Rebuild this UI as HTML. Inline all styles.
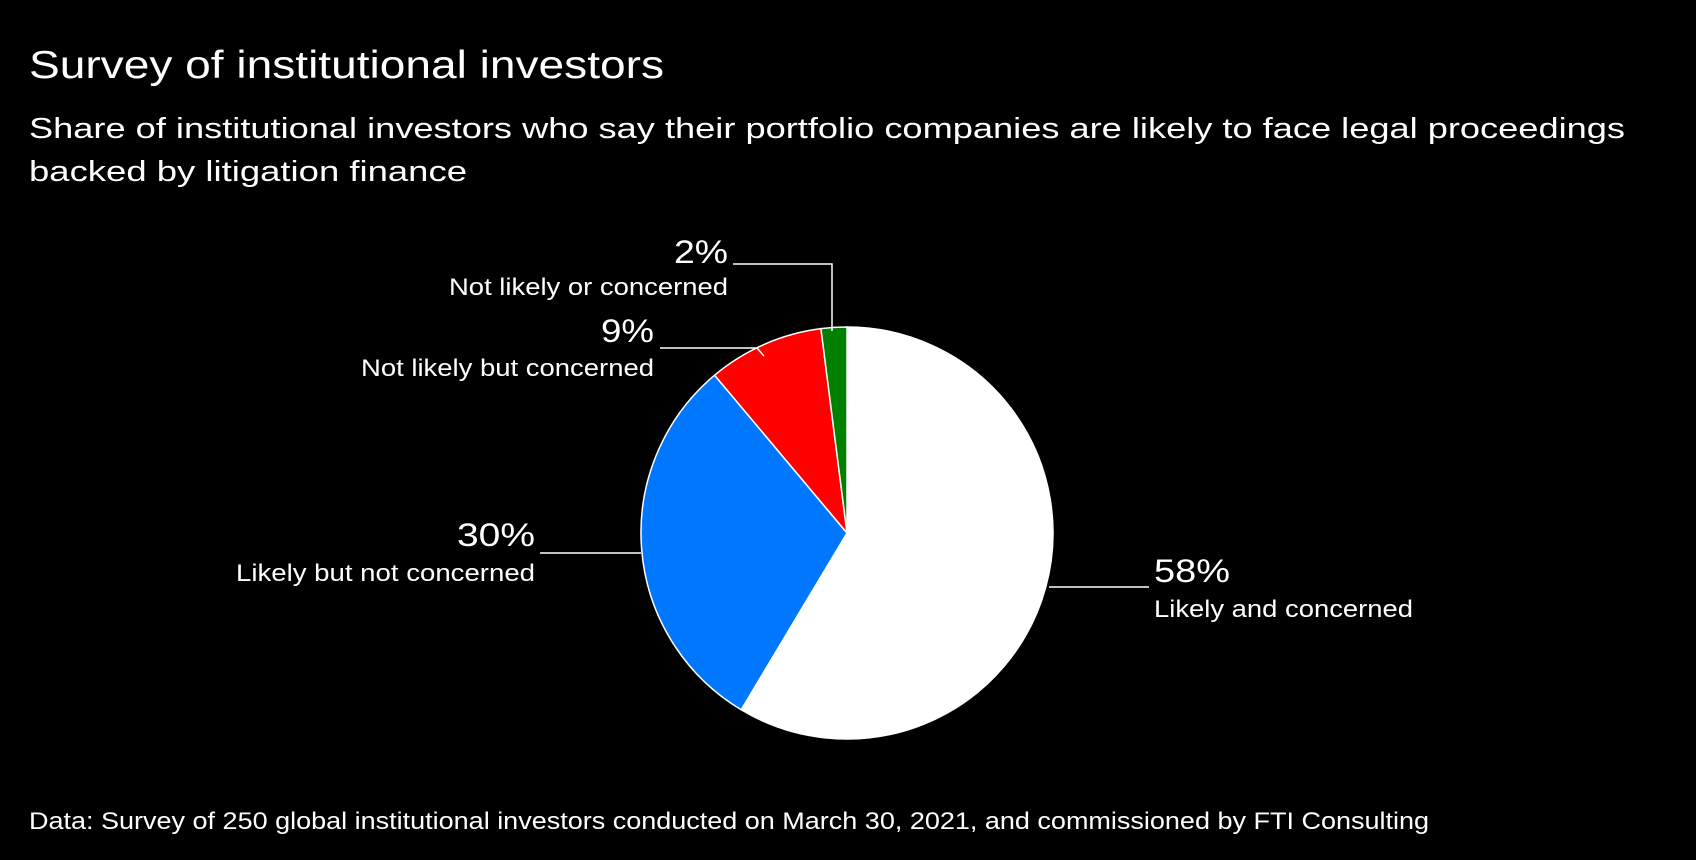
<!DOCTYPE html>
<html><head><meta charset="utf-8"><style>
body{margin:0;background:#000;width:1696px;height:860px;overflow:hidden;font-family:"Liberation Sans",sans-serif;color:#fff}
svg{position:absolute;left:0;top:0}
</style></head><body>
<svg width="1696" height="860">
<text x="29" y="78" font-size="39" fill="#fff" textLength="635" lengthAdjust="spacingAndGlyphs">Survey of institutional investors</text>
<text x="29" y="138" font-size="29" fill="#fff" textLength="1596" lengthAdjust="spacingAndGlyphs">Share of institutional investors who say their portfolio companies are likely to face legal proceedings</text>
<text x="29" y="181" font-size="29" fill="#fff" textLength="438" lengthAdjust="spacingAndGlyphs">backed by litigation finance</text>
<text x="29" y="829" font-size="24" fill="#fff" textLength="1400" lengthAdjust="spacingAndGlyphs">Data: Survey of 250 global institutional investors conducted on March 30, 2021, and commissioned by FTI Consulting</text>
<g id="slices"></g>
<g id="labels"></g>
</svg>
<script>
const categories=["Likely and concerned","Likely but not concerned","Not likely but concerned","Not likely or concerned"];
const values=[58,30,9,2];
const colors=["#ffffff","#0077ff","#ff0000","#008000"];
const cx=847,cy=533,r=206;
const total=values.reduce((a,b)=>a+b,0);
const ns="http://www.w3.org/2000/svg";
const g=document.getElementById('slices');
function pt(a,rr){return [cx+rr*Math.sin(a),cy-rr*Math.cos(a)];}
let a0=0;
values.forEach((v,i)=>{
  const a1=a0+v/total*2*Math.PI;
  const p0=pt(a0,r),p1=pt(a1,r);
  const p=document.createElementNS(ns,'path');
  p.setAttribute('d',`M${cx},${cy}L${p0[0]},${p0[1]}A${r},${r} 0 ${a1-a0>Math.PI?1:0} 1 ${p1[0]},${p1[1]}Z`);
  p.setAttribute('fill',colors[i]);p.setAttribute('stroke','#fff');p.setAttribute('stroke-width','1.5');
  
  
  g.appendChild(p);
  a0=a1;
});
const lg=document.getElementById('labels');
const lab=[
 {pct:[1154,582,'start'],cat:[1154,617],line:"M1049,587H1149",pw:76,cw:259},
 {pct:[535,546,'end'],cat:[535,581],line:"M540,553H641",pw:78,cw:299},
 {pct:[654,342,'end'],cat:[654,376],line:"M660,348H757L764,356",pw:53,cw:293},
 {pct:[728,263,'end'],cat:[728,295],line:"M733,264H832V331",pw:54,cw:279}
];
lab.forEach((L,i)=>{
  const pa=document.createElementNS(ns,'path');
  pa.setAttribute('d',L.line);pa.setAttribute('stroke','#fff');pa.setAttribute('stroke-width','1.5');pa.setAttribute('fill','none');
  
  
  lg.appendChild(pa);
  const t=document.createElementNS(ns,'text');
  t.setAttribute('x',L.pct[0]);t.setAttribute('y',L.pct[1]);t.setAttribute('text-anchor',L.pct[2]);
  t.setAttribute('font-size','32');t.setAttribute('fill','#fff');
  t.setAttribute('textLength',L.pw);t.setAttribute('lengthAdjust','spacingAndGlyphs');
  t.textContent=values[i]+'%';
  
  
  lg.appendChild(t);
  const c=document.createElementNS(ns,'text');
  c.setAttribute('x',L.cat[0]);c.setAttribute('y',L.cat[1]);c.setAttribute('text-anchor',L.pct[2]);
  c.setAttribute('font-size','24');c.setAttribute('fill','#fff');
  c.setAttribute('textLength',L.cw);c.setAttribute('lengthAdjust','spacingAndGlyphs');
  c.textContent=categories[i];
  
  
  lg.appendChild(c);
});
</script>
</body></html>
